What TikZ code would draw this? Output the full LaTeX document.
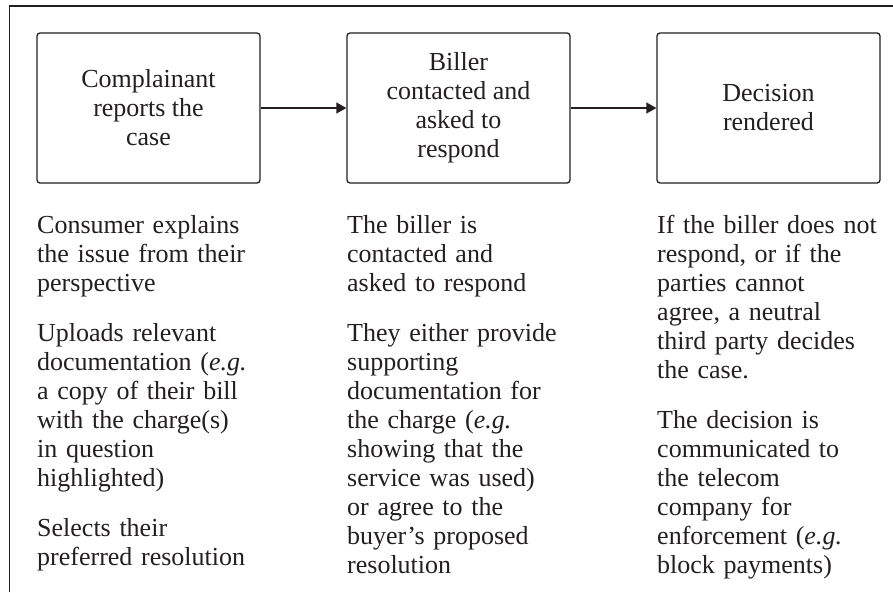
\documentclass[tikz,border=0pt]{standalone}
\usepackage{fontspec}
\setmainfont{Liberation Serif}
\usetikzlibrary{arrows.meta}
\definecolor{ink}{HTML}{231F20}
\newcommand{\bodyfont}{\fontsize{26pt}{29pt}\selectfont}
\tikzset{
  stepbox/.style={draw=ink, line width=1.3pt, rounded corners=3pt,
    minimum width=223pt, minimum height=150pt, align=center,
    inner sep=0pt, text=ink, font=\bodyfont},
  desc/.style={anchor=base west, text width=240pt, align=left,
    inner sep=0pt, text=ink, font=\bodyfont},
  flow/.style={draw=ink, line width=1.3pt, -{Triangle[length=10pt,width=11pt]}},
  frame/.style={draw=ink, line width=1.6pt}
}
\begin{document}
\begin{tikzpicture}[x=1pt,y=-1pt]
\useasboundingbox (0,0) rectangle (893,592);
% frame
\coordinate (fbl) at (9.5,592);
\coordinate (ftl) at (9.5,6);
\coordinate (ftr) at (893,6);
\draw[frame] (fbl) -- (ftl) -- (ftr);
% step boxes
\node[stepbox] (s1) at (148.5,108) {Complainant\\reports the\\case};
\node[stepbox] (s2) at (458.5,108) {Biller\\contacted and\\asked to\\respond};
\node[stepbox] (s3) at (768.5,108) {Decision\\rendered};
\draw[flow] (s1) -- (s2);
\draw[flow] (s2) -- (s3);
% descriptions
\node[desc] (d1) at (37,233) {Consumer explains\\the issue from their\\perspective\\[21pt]
Uploads relevant\\documentation (\textit{e.g.}\\a copy of their bill\\with the charge(s)\\in question\\highlighted)\\[21pt]
Selects their\\preferred resolution};
\node[desc] (d2) at (347,233) {The biller is\\contacted and\\asked to respond\\[21pt]
They either provide\\supporting\\documentation for\\the charge (\textit{e.g.}\\showing that the\\service was used)\\or agree to the\\buyer’s proposed\\resolution};
\node[desc] (d3) at (657,233) {If the biller does not\\respond, or if the\\parties cannot\\agree, a neutral\\third party decides\\the case.\\[21pt]
The decision is\\communicated to\\the telecom\\company for\\enforcement (\textit{e.g.}\\block payments)};
\end{tikzpicture}
\end{document}
